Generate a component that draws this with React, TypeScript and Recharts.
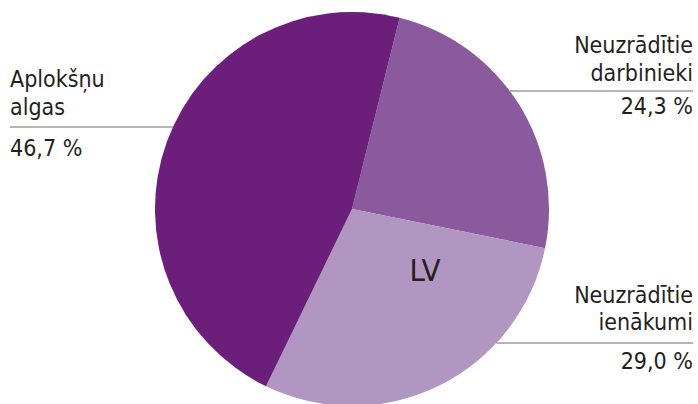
import React from 'react';
import { PieChart, Pie, Cell } from 'recharts';

const names = ['Neuzrādītie darbinieki', 'Neuzrādītie ienākumi', 'Aplokšņu algas'];
const nameLines = [['Neuzrādītie', 'darbinieki'], ['Neuzrādītie', 'ienākumi'], ['Aplokšņu', 'algas']];
const values = [24.3, 29.0, 46.7];
const colors = ['#8B5A9E', '#B196C2', '#6C1E7B'];
const centerLabel = 'LV';

// label layout: side, y of leader line, baselines of name lines, baseline of value
const labelLayout = [
  { side: 'right', lineY: 91, nameY: [53, 81], valueY: 114 },
  { side: 'right', lineY: 343, nameY: [303, 330], valueY: 369 },
  { side: 'left', lineY: 127, nameY: [87, 115], valueY: 156 },
];

const data = names.map((n, i) => ({ name: n, value: values[i] }));

const W = 698;
const H = 404;
const FONT = '"DejaVu Sans Condensed", "DejaVu Sans", Verdana, sans-serif';
const TEXT = '#231F20';

const fmt = (v: number) => v.toFixed(1).replace('.', ',') + ' %';

const renderLabel = (props: any) => {
  const { cx, cy, outerRadius, index } = props;
  const L = labelLayout[index];
  const dy = L.lineY - cy;
  const half = Math.sqrt(Math.max(outerRadius * outerRadius - dy * dy, 0));
  const left = L.side === 'left';
  const edgeX = left ? cx - half : cx + half;
  const textX = left ? 10 : 693;
  const anchor = left ? 'start' : 'end';
  return (
    <g key={'lbl' + index}>
      <line x1={textX} x2={edgeX} y1={L.lineY} y2={L.lineY} stroke="#6d6d6d" strokeWidth={1.2} />
      {nameLines[index].map((t, j) => (
        <text key={j} x={textX} y={L.nameY[j]} textAnchor={anchor} fontFamily={FONT} fontSize={23} fill={TEXT}>
          {t}
        </text>
      ))}
      <text x={textX} y={L.valueY} textAnchor={anchor} fontFamily={FONT} fontSize={23} fill={TEXT}>
        {fmt(values[index])}
      </text>
      {index === 1 ? (
        <text x={cx + 73} y={cy + 72} textAnchor="middle" fontFamily={FONT} fontSize={31} fill={TEXT}>
          {centerLabel}
        </text>
      ) : null}
    </g>
  );
};

export default function App() {
  return (
    <div style={{ width: W, height: H, background: '#fff' }}>
      <style>{`body{margin:0;background:#fff}`}</style>
      <PieChart width={W} height={H} margin={{ top: 0, right: 0, bottom: 0, left: 0 }}>
        <Pie
          data={data}
          dataKey="value"
          nameKey="name"
          cx={352}
          cy={209}
          outerRadius={197}
          innerRadius={0}
          startAngle={76}
          endAngle={-284}
          stroke="none"
          label={renderLabel}
          labelLine={false}
          isAnimationActive={false}
        >
          {data.map((d, i) => (
            <Cell key={d.name} fill={colors[i]} />
          ))}
        </Pie>
      </PieChart>
    </div>
  );
}
